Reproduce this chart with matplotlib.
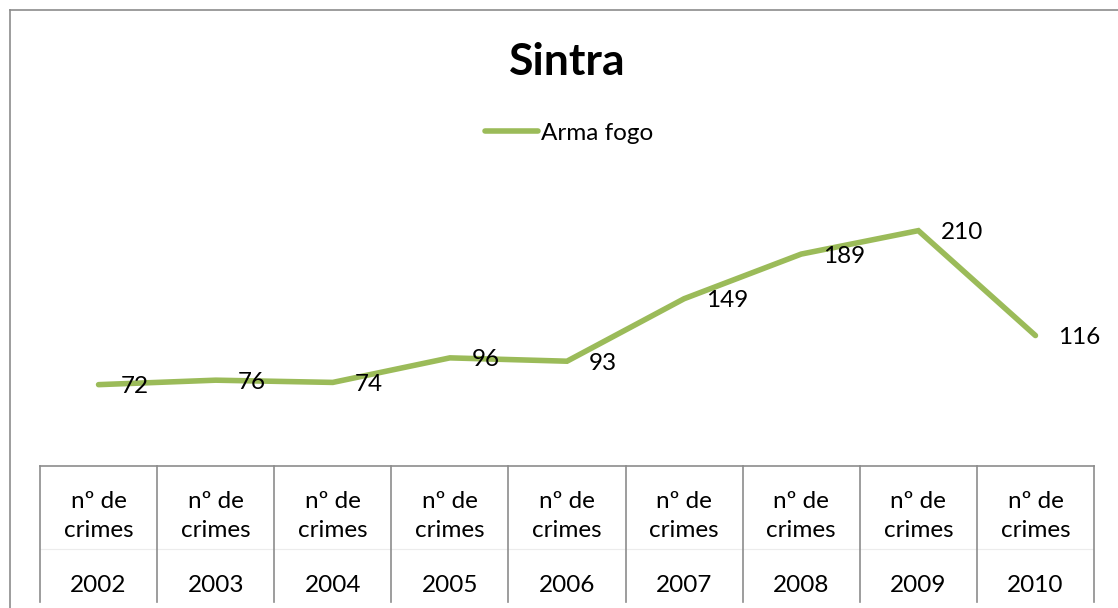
import matplotlib.pyplot as plt
from matplotlib.lines import Line2D

# DATA
years = ['2002', '2003', '2004', '2005', '2006', '2007', '2008', '2009', '2010']
sub_label = 'nº de\ncrimes'
crimes = [72, 76, 74, 96, 93, 149, 189, 210, 116]
series_name = 'Arma fogo'
title = 'Sintra'

W, H = 1118, 608
GREEN = '#9BBB59'
GRID = '#8c8c8c'
FS = 17.5

plt.rcParams['font.family'] = ['Lato', 'DejaVu Sans']

fig = plt.figure(figsize=(W / 100, H / 100), dpi=100)


def fx(px):
    return px / W


def fy(py):
    return 1 - py / H


# chart border (left + top visible)
fig.add_artist(Line2D([fx(10), fx(10)], [fy(10), 0], color=GRID, lw=1.2))
fig.add_artist(Line2D([fx(10), 1], [fy(10), fy(10)], color=GRID, lw=1.2))

# ===================== LINE PLOT =====================
ax = fig.add_axes([fx(40), fy(465), fx(1094) - fx(40), fy(186) - fy(465)])
xs = list(range(len(years)))
ax.plot(xs, crimes, color=GREEN, lw=4.0, solid_capstyle='round',
        solid_joinstyle='miter', label=series_name)
for x, v in zip(xs, crimes):
    ax.annotate(str(v), (x, v), xytext=(16, -1.5), textcoords='offset points',
                ha='left', va='center', fontsize=FS, color='black')
ax.set_xlim(-0.5, len(years) - 0.5)
ax.set_ylim(0, 250)
ax.axis('off')

leg = ax.legend(loc='center', bbox_to_anchor=(fx(569), fy(133)),
                bbox_transform=fig.transFigure, frameon=False, fontsize=FS,
                handlelength=2.2, handletextpad=0.1)

fig.text(fx(567), fy(62), title, ha='center', va='center',
         fontsize=32, fontweight='bold')

# ===================== CATEGORY TABLE =====================
tab = fig.add_axes([fx(40), 0, fx(1094) - fx(40), fy(465)])
tab.set_xlim(-0.5, len(years) - 0.5)
tab.set_ylim(H, 465)
tab.axis('off')
tab.plot([-0.5, len(years) - 0.5], [466, 466], color=GRID, lw=1.2, clip_on=False)
tab.plot([-0.5, len(years) - 0.5], [549, 549], color='#ececec', lw=0.8)
for i in range(len(years) + 1):
    tab.plot([i - 0.5, i - 0.5], [466, 602], color=GRID, lw=1.2, clip_on=False)
for i, yr in enumerate(years):
    tab.text(i, 516, sub_label, ha='center', va='center', fontsize=FS,
             linespacing=1.5)
    tab.text(i, 585, yr, ha='center', va='center', fontsize=FS)

fig.savefig('out.png', dpi=100, facecolor='white')
